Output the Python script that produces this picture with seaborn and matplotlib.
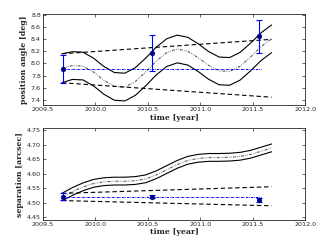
import numpy as np
import pandas as pd
import seaborn as sns
import matplotlib.pyplot as plt

# time grid for the model curves (years)
t_grid = [2009.68, 2009.78, 2009.88, 2009.98, 2010.08, 2010.18, 2010.28,
          2010.38, 2010.48, 2010.58, 2010.68, 2010.78, 2010.88, 2010.98,
          2011.08, 2011.18, 2011.28, 2011.38, 2011.48, 2011.58, 2011.68]

# position angle model [deg]
pa_upper = [8.16, 8.195, 8.187, 8.09, 7.95, 7.85, 7.838, 7.93, 8.09, 8.27, 8.41,
            8.47, 8.434, 8.326, 8.197, 8.106, 8.098, 8.184, 8.338, 8.509, 8.639]
pa_center = [7.92, 7.965, 7.957, 7.86, 7.72, 7.62, 7.608, 7.70, 7.86, 8.04, 8.18,
             8.24, 8.204, 8.096, 7.967, 7.876, 7.868, 7.954, 8.108, 8.279, 8.409]
pa_lower = [7.68, 7.735, 7.727, 7.63, 7.49, 7.39, 7.378, 7.47, 7.63, 7.81, 7.95,
            8.01, 7.974, 7.866, 7.737, 7.646, 7.638, 7.724, 7.878, 8.049, 8.179]

# separation model [arcsec]
sep_upper = [4.532, 4.552, 4.568, 4.580, 4.586, 4.588, 4.588, 4.590, 4.596, 4.610, 4.628,
             4.646, 4.660, 4.667, 4.670, 4.670, 4.671, 4.674, 4.681, 4.692, 4.703]
sep_center = [4.519, 4.538, 4.554, 4.566, 4.572, 4.574, 4.574, 4.576, 4.582, 4.596, 4.614,
              4.632, 4.646, 4.653, 4.656, 4.656, 4.657, 4.660, 4.667, 4.678, 4.689]
sep_lower = [4.506, 4.525, 4.541, 4.553, 4.559, 4.561, 4.561, 4.563, 4.569, 4.583, 4.601,
             4.619, 4.633, 4.640, 4.643, 4.643, 4.644, 4.647, 4.654, 4.665, 4.676]

# static (no motion) cone, end points
cone_t = [2009.68, 2011.68]
pa_cone_hi = [8.16, 8.40]
pa_cone_lo = [7.68, 7.44]
sep_cone_hi = [4.532, 4.555]
sep_cone_lo = [4.507, 4.489]

# observations
obs_t = [2009.69, 2010.54, 2011.56]
obs_pa = [7.91, 8.17, 8.45]
obs_pa_err = [0.235, 0.30, 0.27]
obs_sep = [4.521, 4.520, 4.509]
obs_sep_err = [0.013, 0.005, 0.006]
ref_t = [2009.68, 2011.58]

sns.set_style("ticks")
plt.rcParams["xtick.direction"] = "in"
plt.rcParams["ytick.direction"] = "in"
plt.rcParams["xtick.top"] = True
plt.rcParams["ytick.right"] = True

fig = plt.figure(figsize=(3.26, 2.46), dpi=100)
ax1 = fig.add_axes([0.132, 0.573, 0.804, 0.370])
ax2 = fig.add_axes([0.132, 0.106, 0.804, 0.372])

dash_cone = (0, (4, 2.5))
dash_mid = (0, (2.5, 1.2, 0.6, 1.2, 0.6, 1.2))


def draw_panel(ax, up, mid, lo, c_hi, c_lo, y, yerr, ylabel, ylim, ticks):
    sns.lineplot(x=t_grid, y=up, ax=ax, color="k", lw=0.8, sort=False, estimator=None)
    sns.lineplot(x=t_grid, y=lo, ax=ax, color="k", lw=0.8, sort=False, estimator=None)
    sns.lineplot(x=t_grid, y=mid, ax=ax, color="0.35", lw=0.8, linestyle=dash_mid,
                 sort=False, estimator=None)
    sns.lineplot(x=cone_t, y=c_hi, ax=ax, color="k", lw=0.8, linestyle=dash_cone,
                 sort=False, estimator=None)
    sns.lineplot(x=cone_t, y=c_lo, ax=ax, color="k", lw=0.8, linestyle=dash_cone,
                 sort=False, estimator=None)
    sns.lineplot(x=ref_t, y=[y[0], y[0]], ax=ax, color="b", lw=0.7,
                 linestyle=(0, (2.5, 1, 0.6, 1)), sort=False, estimator=None)
    ax.errorbar(obs_t, y, yerr=yerr, fmt="none", ecolor="b", elinewidth=0.8,
                capsize=2, capthick=0.8, zorder=4)
    sns.scatterplot(x=obs_t, y=y, ax=ax, color="#00008b", marker="o", s=12,
                    edgecolor="#00008b", linewidth=0.3, zorder=5)
    ax.set_xlim(2009.5, 2012.0)
    ax.set_ylim(*ylim)
    ax.set_xticks([2009.5, 2010.0, 2010.5, 2011.0, 2011.5, 2012.0])
    ax.set_yticks(ticks)
    ax.tick_params(labelsize=4.6, length=2.5, width=0.5, pad=1.5)
    for s in ax.spines.values():
        s.set_linewidth(0.6)
    ax.set_xlabel("time [year]", family="DejaVu Serif", weight="bold",
                  fontsize=5.6, labelpad=1)
    ax.set_ylabel(ylabel, family="DejaVu Serif", weight="bold", fontsize=5.6,
                  labelpad=2)


draw_panel(ax1, pa_upper, pa_center, pa_lower, pa_cone_hi, pa_cone_lo,
           obs_pa, obs_pa_err, "position angle [deg]", (7.31, 8.82),
           [7.4, 7.6, 7.8, 8.0, 8.2, 8.4, 8.6, 8.8])
ax1.set_yticklabels(["7.4", "7.6", "7.8", "8.0", "8.2", "8.4", "8.6", "8.8"])
draw_panel(ax2, sep_upper, sep_center, sep_lower, sep_cone_hi, sep_cone_lo,
           obs_sep, obs_sep_err, "separation [arcsec]", (4.44, 4.757),
           [4.45, 4.50, 4.55, 4.60, 4.65, 4.70, 4.75])
ax2.set_yticklabels(["4.45", "4.50", "4.55", "4.60", "4.65", "4.70", "4.75"])

fig.savefig("out.png", dpi=100)
